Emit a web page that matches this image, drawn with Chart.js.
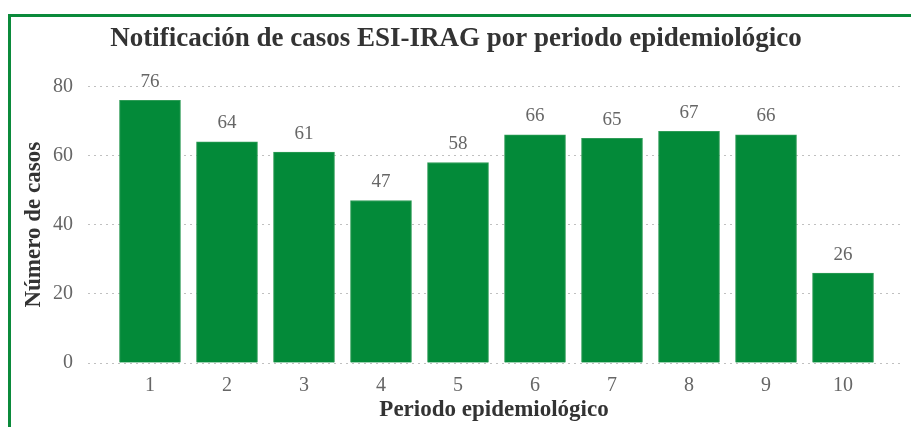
<!DOCTYPE html>
<html>
<head>
<meta charset="utf-8">
<script src="https://cdn.jsdelivr.net/npm/chart.js@4"></script>
<style>
  body { margin: 0; background: #fff; overflow: hidden; }
  #marco { position: absolute; left: 8px; top: 14px; width: 1000px; height: 1000px; border: 3px solid #0b8a3b; }
  #wrap { position: absolute; left: 0; top: 0; width: 911px; height: 427px; }
</style>
</head>
<body>
<div id="marco"></div>
<div id="wrap"><canvas id="grafico" width="911" height="427"></canvas></div>
<script>
// --- Datos ---
const periodos = ['1', '2', '3', '4', '5', '6', '7', '8', '9', '10'];
const casos = [76, 64, 61, 47, 58, 66, 65, 67, 66, 26];
const ticksY = [0, 20, 40, 60, 80];

const verde = '#038a39';
const gris = '#666666';
const fuente = "'Liberation Serif', 'Times New Roman', serif";

// Etiquetas de valor encima de cada barra
const etiquetas = {
  id: 'etiquetas',
  afterDatasetsDraw(chart) {
    const ctx = chart.ctx;
    const meta = chart.getDatasetMeta(0);
    ctx.save();
    ctx.font = '19px ' + fuente;
    ctx.fillStyle = gris;
    ctx.textAlign = 'center';
    ctx.textBaseline = 'bottom';
    meta.data.forEach((bar, i) => {
      ctx.fillText(casos[i], bar.x, bar.y - 9);
    });
    ctx.restore();
  }
};

new Chart(document.getElementById('grafico'), {
  type: 'bar',
  data: {
    datasets: [{
      data: casos.map((v, i) => ({ x: i + 1, y: v })),
      backgroundColor: verde,
      borderColor: '#2f9c57',
      borderWidth: 1,
      barThickness: 61
    }]
  },
  options: {
    responsive: false,
    animation: false,
    layout: { padding: { left: 12, top: 0, right: 11, bottom: 0 } },
    plugins: {
      legend: { display: false },
      tooltip: { enabled: false },
      title: {
        display: true,
        text: 'Notificación de casos ESI-IRAG por periodo epidemiológico',
        color: '#333333',
        font: { family: fuente, size: 27, weight: 'bold' },
        padding: { top: 23, bottom: 31 }
      }
    },
    scales: {
      x: {
        type: 'linear',
        offset: false,
        min: 0.195,
        max: 10.74,
        grid: { display: false },
        border: { display: false },
        afterFit(scale) { scale.height = 64; },
        ticks: {
          stepSize: 1,
          includeBounds: false,
          autoSkip: false,
          maxRotation: 0,
          color: gris,
          padding: 3,
          font: { family: fuente, size: 20 },
          callback: v => Number.isInteger(v) ? periodos[v - 1] : ''
        },
        title: {
          display: true,
          text: 'Periodo epidemiológico',
          color: '#333333',
          font: { family: fuente, size: 23, weight: 'bold' },
          padding: { top: 0, bottom: 3 }
        }
      },
      y: {
        min: 0,
        max: 80,
        afterFit(scale) { scale.width = 76; },
        afterBuildTicks(scale) { scale.ticks = ticksY.map(v => ({ value: v })); },
        grid: { color: '#c0c0c0', lineWidth: 1, drawTicks: false },
        border: { display: false, dash: [2, 4] },
        ticks: {
          color: gris,
          padding: 15,
          font: { family: fuente, size: 20 }
        },
        title: {
          display: true,
          text: 'Número de casos',
          color: '#333333',
          font: { family: fuente, size: 23, weight: 'bold' },
          padding: { top: 8, bottom: 0 }
        }
      }
    }
  },
  plugins: [etiquetas]
});
</script>
</body>
</html>
